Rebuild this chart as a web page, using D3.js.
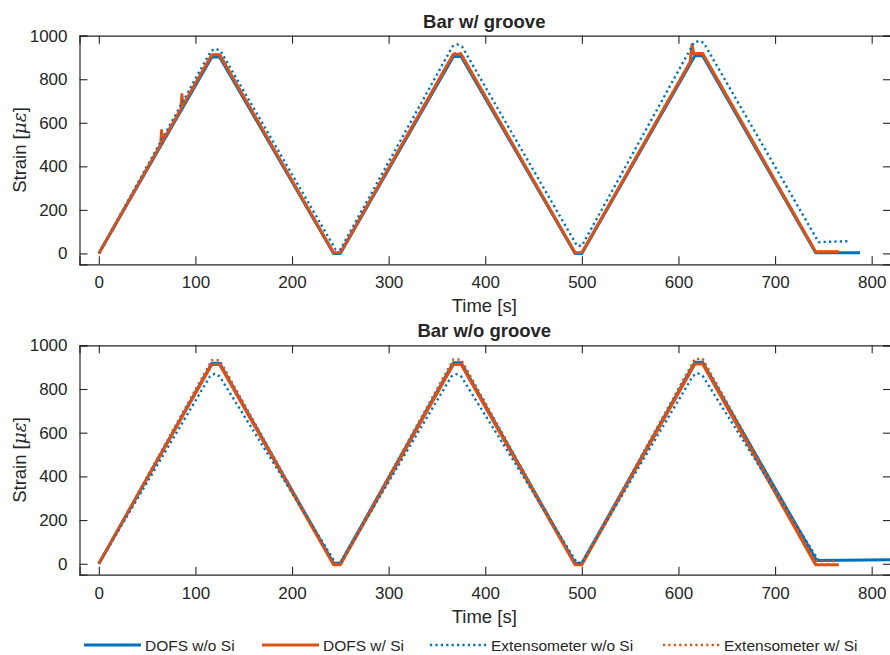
<!DOCTYPE html>
<html><head><meta charset="utf-8">
<script src="https://cdn.jsdelivr.net/npm/d3@7"></script>
<style>
body{margin:0;background:#fff;}
text{font-family:"Liberation Sans",Arial,sans-serif;fill:#262626;}
</style></head>
<body><svg id="c" width="890" height="655"></svg>
<script>
// ---------- DATA ----------
const xTicks = [0,100,200,300,400,500,600,700,800];
const yTicks = [0,200,400,600,800,1000];
const seriesNames = ["DOFS w/o Si","DOFS w/ Si","Extensometer w/o Si","Extensometer w/ Si"];
const titles = ["Bar w/ groove","Bar w/o groove"];

// Bar w/ groove
const g_dofsNoSi_t = [0,117,125,243,250,367,375,493,500,617,625,742,788];
const g_dofsNoSi_v = [0,902,902,0,0,905,905,0,0,908,908,3,3];
const g_dofsSi_t = [0,64,65,66,85,86,87,117,125,243,250,367,375,493,500,612,614,616,618,625,742,766];
const g_dofsSi_v = [0,500,565,515,663,730,680,912,912,3,3,915,915,3,3,878,958,915,918,918,8,8];
const g_extNoSi_t = [0,116,121,126,245,250,366,371,376,495,500,616,621,626,745,775];
const g_extNoSi_v = [0,930,940,930,18,18,950,960,950,35,35,968,976,968,52,56];
const g_extSi_t = [0,117,125,243,250,367,375,493,500,617,625,742,765];
const g_extSi_v = [0,915,915,3,3,918,918,3,3,920,920,8,8];

// Bar w/o groove
const n_dofsNoSi_t = [0,117,125,243,250,367,375,493,500,617,625,743,820];
const n_dofsNoSi_v = [0,918,918,2,2,920,920,2,2,922,922,15,18];
const n_dofsSi_t = [0,117,125,243,250,367,375,493,500,617,625,742,766];
const n_dofsSi_v = [0,912,912,-5,-5,912,912,-5,-5,914,914,-4,-4];
const n_extNoSi_t = [0,115,120,125,245,250,365,370,375,495,500,615,620,625,745,764];
const n_extNoSi_v = [0,858,870,858,4,4,858,868,858,4,4,860,872,860,15,15];
const n_extSi_t = [0,117,125,243,250,367,375,493,500,617,625,742,764];
const n_extSi_v = [0,932,932,0,0,935,935,0,0,938,938,12,12];

const panels = [
  {title:titles[0], series:[[g_dofsNoSi_t,g_dofsNoSi_v],[g_dofsSi_t,g_dofsSi_v],[g_extNoSi_t,g_extNoSi_v],[g_extSi_t,g_extSi_v]]},
  {title:titles[1], series:[[n_dofsNoSi_t,n_dofsNoSi_v],[n_dofsSi_t,n_dofsSi_v],[n_extNoSi_t,n_extNoSi_v],[n_extSi_t,n_extSi_v]]}
];

// ---------- STYLE ----------
const colors = ["#0072BD","#D95319","#0072BD","#D95319"];
const dashes = [null,null,"2.2,3.2","2.2,3.2"];
const widths = [3,3,2.4,2.4];
const axisColor = "#262626";

const svg = d3.select("#c");
const L = 79.5, R = 891;
const boxes = [{top:35.7,bottom:264.3},{top:345.3,bottom:574.7}];
const tickLen = 8;

panels.forEach((p,pi)=>{
  const b = boxes[pi];
  const x = d3.scaleLinear().domain([-20,820]).range([L,R]);
  const y = d3.scaleLinear().domain([-50,1000]).range([b.bottom,b.top]);
  const g = svg.append("g");
  const clipId = "clip"+pi;
  g.append("clipPath").attr("id",clipId).append("rect")
    .attr("x",L).attr("y",b.top).attr("width",R-L).attr("height",b.bottom-b.top);

  const line = d3.line().x(d=>x(d[0])).y(d=>y(d[1]));
  const lg = g.append("g").attr("clip-path",`url(#${clipId})`);
  p.series.forEach((s,si)=>{
    const pts = s[0].map((t,i)=>[t,s[1][i]]);
    lg.append("path").datum(pts).attr("d",line)
      .attr("fill","none").attr("stroke",colors[si]).attr("stroke-width",widths[si])
      .attr("stroke-linejoin","round")
      .attr("stroke-dasharray",dashes[si]);
  });

  // axes
  const xb = d3.axisBottom(x).tickValues(xTicks).tickSize(-tickLen).tickPadding(12).tickFormat(d3.format("d"));
  const xt = d3.axisTop(x).tickValues(xTicks).tickSize(-tickLen).tickFormat("");
  const yl = d3.axisLeft(y).tickValues(yTicks).tickSize(-tickLen).tickPadding(12).tickFormat(d3.format("d"));
  const yr = d3.axisRight(y).tickValues(yTicks).tickSize(-tickLen).tickFormat("");
  const ax = [
    g.append("g").attr("transform",`translate(0,${b.bottom})`).call(xb),
    g.append("g").attr("transform",`translate(0,${b.top})`).call(xt),
    g.append("g").attr("transform",`translate(${L},0)`).call(yl),
    g.append("g").attr("transform",`translate(${R},0)`).call(yr)
  ];
  ax.forEach(a=>{
    a.select(".domain").attr("stroke",axisColor).attr("stroke-width",1.2);
    a.selectAll(".tick line").attr("stroke",axisColor).attr("stroke-width",1.1);
    a.selectAll(".tick text").attr("fill",axisColor).style("font-size","17px")
      .style("font-family","'Liberation Sans',Arial,sans-serif");
  });

  const cx = (L+889)/2;
  g.append("text").attr("x",cx).attr("y",b.top-8).attr("text-anchor","middle")
    .style("font-size","18.5px").style("font-weight","bold").text(p.title);
  g.append("text").attr("x",cx).attr("y",b.bottom+48).attr("text-anchor","middle")
    .style("font-size","18.5px").text("Time [s]");
  const yt = g.append("text").attr("transform",`translate(26,${(b.top+b.bottom)/2}) rotate(-90)`)
    .attr("text-anchor","middle").style("font-size","18.5px");
  yt.append("tspan").text("Strain [");
  yt.append("tspan").style("font-style","italic").style("font-family","'DejaVu Serif',serif").text("\u03bc\u03b5");
  yt.append("tspan").text("]");
});

// legend
const legX = [84,262,430,663];
const legY = 645;
seriesNames.forEach((n,i)=>{
  svg.append("line").attr("x1",legX[i]).attr("x2",legX[i]+57).attr("y1",legY).attr("y2",legY)
    .attr("stroke",colors[i]).attr("stroke-width",widths[i]).attr("stroke-dasharray",dashes[i]);
  svg.append("text").attr("x",legX[i]+61).attr("y",legY+5.5).style("font-size","15.5px").text(n);
});
</script></body></html>
